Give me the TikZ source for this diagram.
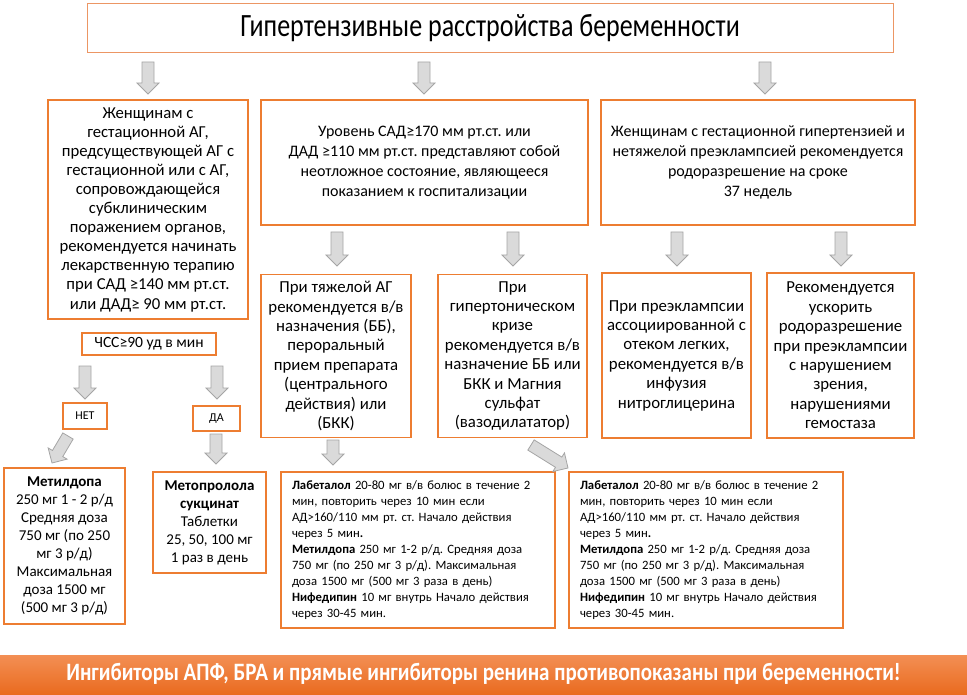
\documentclass[tikz,border=0pt]{standalone}
\usepackage{fontspec}
\setmainfont{Carlito}
\newfontfamily\condfont[FakeStretch=0.8]{Carlito}
\newfontfamily\banfont[FakeStretch=0.84]{Carlito}
\usetikzlibrary{calc}
\definecolor{orng}{RGB}{237,125,49}
\definecolor{orngtitle}{RGB}{236,150,100}
\definecolor{orngtop}{RGB}{243,143,84}
\definecolor{orngbot}{RGB}{233,106,30}
\definecolor{arrfill}{RGB}{218,218,218}
\definecolor{arrdraw}{RGB}{165,165,165}
\newcommand\blockarrow[2]{%
  \coordinate (ha) at ($(#2)!11pt!(#1)$);
  \draw[barrow] ($(#1)!6pt!90:(#2)$) -- ($(ha)!6pt!90:(#2)$) -- ($(ha)!11pt!90:(#2)$) -- (#2)
     -- ($(ha)!11pt!-90:(#2)$) -- ($(ha)!6pt!-90:(#2)$) -- ($(#1)!6pt!-90:(#2)$) -- cycle;}
\tikzset{
  box/.style={draw=orng, line width=1.3pt, fill=white, inner sep=0pt, align=center,
    font=\frenchspacing\fontsize{16}{19.8}\selectfont},
  bigbox/.style={box, font=\frenchspacing\fontsize{16.8}{19.4}\selectfont},
  smallbox/.style={box, font=\frenchspacing\fontsize{15}{18}\selectfont},
  tinybox/.style={box, font=\fontsize{12}{14}\selectfont},
  drugbox/.style={draw=orng, line width=1.3pt, fill=white, inner xsep=11pt, inner ysep=0pt,
    align=left, font=\frenchspacing\fontsize{12.7}{16}\selectfont},
  barrow/.style={draw=arrdraw, fill=arrfill, line width=0.8pt, line join=miter},
}
\begin{document}
\begin{tikzpicture}[x=1pt,y=-1pt]
\useasboundingbox (0,0) rectangle (967,695);
\fill[white] (0,0) rectangle (967,695);

% title
\node[draw=orngtitle, line width=1pt, minimum width=806pt, minimum height=49pt, inner sep=0pt,
  font=\condfont\fontsize{32.5}{34}\selectfont] (title) at (490,28) {Гипертензивные расстройства беременности};

% row 1
\node[bigbox, font=\frenchspacing\fontsize{16.7}{19.1}\selectfont, minimum width=200pt, minimum height=219pt] (l1) at (148,209.5)
 {Женщинам с\\гестационной АГ,\\предсуществующей АГ с\\гестационной или с АГ,\\сопровождающейся\\субклиническим\\поражением органов,\\рекомендуется начинать\\лекарственную терапию\\при САД ≥140 мм рт.ст.\\или ДАД≥ 90 мм рт.ст.};
\node[box, minimum width=327pt, minimum height=125pt] (m1) at (424.5,162.5)
 {Уровень САД≥170 мм рт.ст. или\\ДАД ≥110 мм рт.ст. представляют собой\\неотложное состояние, являющееся\\показанием к госпитализации};
\node[box, minimum width=314pt, minimum height=125pt] (r1) at (758,162.5)
 {Женщинам с гестационной гипертензией и\\нетяжелой преэклампсией рекомендуется\\родоразрешение на сроке\\37 недель};

% left branch
\node[smallbox, line width=1.2pt, font=\fontsize{15.6}{18}\selectfont, minimum width=134pt, minimum height=22pt] (hr) at (149,344) {ЧСС≥90 уд в мин};
\node[tinybox, minimum width=44pt, minimum height=26pt] (net) at (85,416) {НЕТ};
\node[tinybox, minimum width=47pt, minimum height=25pt] (da) at (216.5,418.5) {ДА};
\node[smallbox, minimum width=121pt, minimum height=156pt] (metd) at (64.5,546)
 {\textbf{Метилдопа}\\250 мг 1 - 2 р/д\\Средняя доза\\750 мг (по 250\\мг 3 р/д)\\Максимальная\\доза 1500 мг\\(500 мг 3 р/д)};
\node[smallbox, minimum width=113pt, minimum height=101pt] (metp) at (209.5,522.5)
 {\textbf{Метопролола}\\\textbf{сукцинат}\\Таблетки\\25, 50, 100 мг\\1 раз в день};

% row 2
\node[bigbox, minimum width=150pt, minimum height=163pt] (m2a) at (336,356)
 {При тяжелой АГ\\рекомендуется в/в\\назначения (ББ),\\пероральный\\прием препарата\\(центрального\\действия) или\\(БКК)};
\node[bigbox, minimum width=149pt, minimum height=163pt] (m2b) at (512.5,356)
 {При\\гипертоническом\\кризе\\рекомендуется в/в\\назначение ББ или\\БКК и Магния\\сульфат\\(вазодилататор)};
\node[bigbox, minimum width=149pt, minimum height=165pt] (r2a) at (676.5,355.5)
 {При преэклампсии\\ассоциированной с\\отеком легких,\\рекомендуется в/в\\инфузия\\нитроглицерина};
\node[bigbox, minimum width=147pt, minimum height=165pt] (r2b) at (840.5,355.5)
 {Рекомендуется\\ускорить\\родоразрешение\\при преэклампсии\\с нарушением\\зрения,\\нарушениями\\гемостаза};

% row 3
\node[drugbox, minimum width=274pt, minimum height=156pt, text width=252pt] (m3a) at (418,550)
 {\textbf{Лабеталол} 20-80 мг в/в болюс в течение 2\\мин, повторить через 10 мин если\\АД>160/110 мм рт. ст. Начало действия\\через 5 мин\textbf{.}\\\textbf{Метилдопа} 250 мг 1-2 р/д. Средняя доза\\750 мг (по 250 мг 3 р/д). Максимальная\\доза 1500 мг (500 мг 3 раза в день)\\\textbf{Нифедипин} 10 мг внутрь Начало действия\\через 30-45 мин.};
\node[drugbox, minimum width=274pt, minimum height=156pt, text width=252pt] (m3b) at (706,550)
 {\textbf{Лабеталол} 20-80 мг в/в болюс в течение 2\\мин, повторить через 10 мин если\\АД>160/110 мм рт. ст. Начало действия\\через 5 мин\textbf{.}\\\textbf{Метилдопа} 250 мг 1-2 р/д. Средняя доза\\750 мг (по 250 мг 3 р/д). Максимальная\\доза 1500 мг (500 мг 3 раза в день)\\\textbf{Нифедипин} 10 мг внутрь Начало действия\\через 30-45 мин.};

% banner
\shade[top color=orngtop, bottom color=orngbot] (0,655) rectangle (967,695);
\node[text=white, font=\banfont\bfseries\fontsize{25}{28}\selectfont] (ban) at (483.5,674)
 {Ингибиторы АПФ, БРА и прямые ингибиторы ренина противопоказаны при беременности!};

% arrows
\coordinate (a1s) at (148,62);  \coordinate (a1e) at (148,94);
\coordinate (a2s) at (424,62);  \coordinate (a2e) at (424,94);
\coordinate (a3s) at (765,62);  \coordinate (a3e) at (765,94);
\coordinate (a4s) at (337,232); \coordinate (a4e) at (337,266);
\coordinate (a5s) at (513,232); \coordinate (a5e) at (513,266);
\coordinate (a6s) at (677,232); \coordinate (a6e) at (677,266);
\coordinate (a7s) at (841,232); \coordinate (a7e) at (841,266);
\coordinate (a8s) at (85,366);  \coordinate (a8e) at (85,399);
\coordinate (a9s) at (217,366); \coordinate (a9e) at (217,399);
\coordinate (b1s) at (68,436);  \coordinate (b1e) at (52,463);
\coordinate (b2s) at (216,434); \coordinate (b2e) at (216,464);
\coordinate (b3s) at (333,440); \coordinate (b3e) at (333,465);
\coordinate (b4s) at (531,445); \coordinate (b4e) at (568,468);
\foreach \s/\e in {a1s/a1e,a2s/a2e,a3s/a3e,a4s/a4e,a5s/a5e,a6s/a6e,a7s/a7e,a8s/a8e,a9s/a9e,b1s/b1e,b2s/b2e,b3s/b3e,b4s/b4e}
  {\blockarrow{\s}{\e}}
\end{tikzpicture}
\end{document}
